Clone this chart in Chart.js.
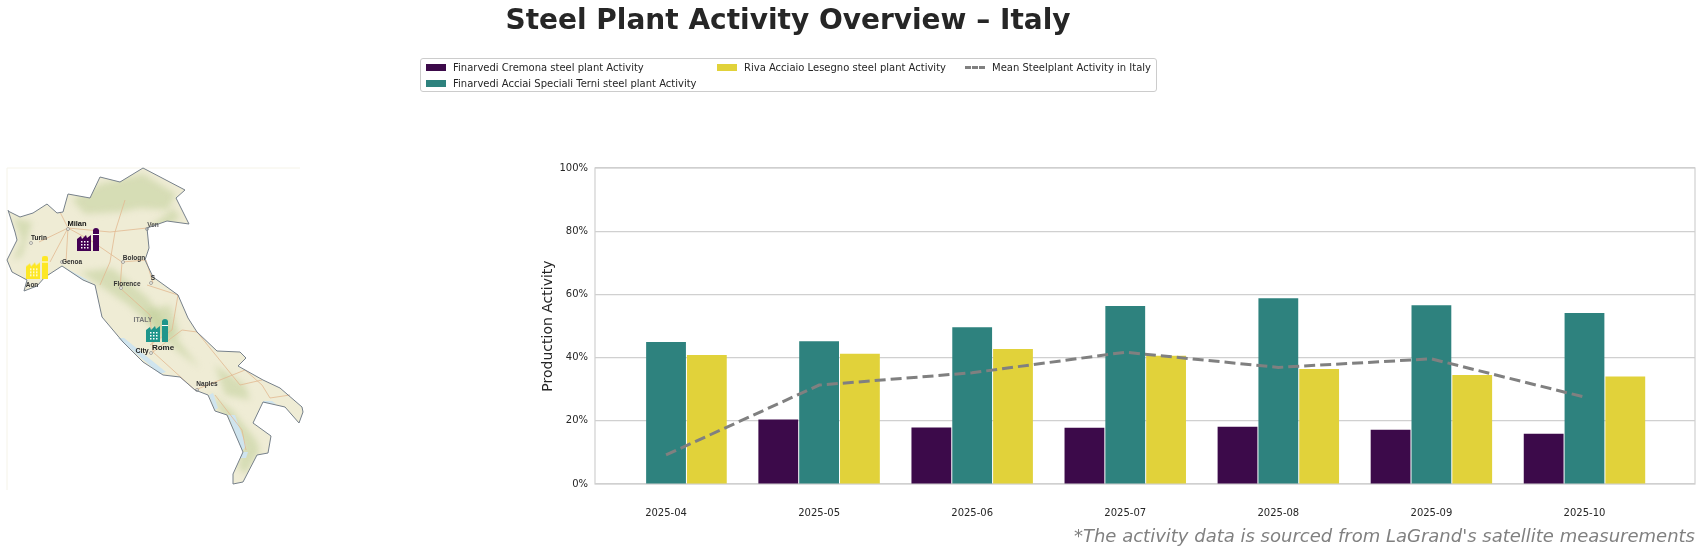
<!DOCTYPE html>
<html>
<head>
  <meta charset="utf-8">
  <script src="https://cdn.jsdelivr.net/npm/chart.js@4"></script>
  <style>
    html, body { margin: 0; padding: 0; background: #fff; }
    body { position: relative; width: 1702px; height: 554px; overflow: hidden; font-family: "DejaVu Sans", sans-serif; }
    canvas { position: absolute; }
    #mainTitle { position: absolute; left: 288px; width: 1000px; top: 1px; text-align: center; font-size: 28px; font-weight: bold; color: #262626; line-height: 38px; }
    #legendBox { position: absolute; left: 420px; top: 58px; width: 735px; height: 32px; border: 1px solid #cccccc; border-radius: 3px; font-size: 10px; color: #262626; }
    .item { position: absolute; white-space: nowrap; line-height: 14px; }
    .swatch { position: absolute; left: 0; top: 3px; width: 20px; height: 7px; }
    .dash { position: absolute; left: 0; top: 5px; width: 20px; border-top: 3px dashed #808080; }
    .item span { margin-left: 27px; }
    #footNote { position: absolute; right: 7px; top: 525px; font-size: 18px; font-style: italic; color: #808080; white-space: nowrap; }
  </style>
</head>
<body>
  <canvas id="barCanvas" width="1702" height="554" style="left:0;top:0"></canvas>
  <canvas id="mapCanvas" width="320" height="330" style="left:0;top:160px"></canvas>
  <div id="mainTitle">Steel Plant Activity Overview – Italy</div>
  <div id="legendBox"></div>
  <div id="footNote">*The activity data is sourced from LaGrand's satellite measurements</div>

  <script>
    const months = ['2025-04', '2025-05', '2025-06', '2025-07', '2025-08', '2025-09', '2025-10'];
    const cremona = [null, 20.4, 17.9, 17.8, 18.1, 17.2, 15.9];
    const terni = [44.9, 45.2, 49.6, 56.3, 58.8, 56.6, 54.1];
    const lesegno = [40.8, 41.2, 42.7, 40.6, 36.4, 34.5, 34.0];
    const meanItaly = [9.2, 31.3, 35.2, 41.7, 36.9, 39.6, 27.5];
    const yTicks = [0, 20, 40, 60, 80, 100];

    const seriesNames = [
      'Finarvedi Cremona steel plant Activity',
      'Finarvedi Acciai Speciali Terni steel plant Activity',
      'Riva Acciaio Lesegno steel plant Activity',
      'Mean Steelplant Activity in Italy'
    ];
    const purple = '#3c0a4a';
    const teal = '#2e827e';
    const yellow = '#e1d23a';

    const italyOutline = [[8,211],[20,217],[33,213],[47,204],[57,213],[63,212],[68,194],[90,198],[100,177],[120,182],[143,168],[185,190],[176,198],[182,210],[189,224],[167,221],[147,228],[149,248],[145,260],[153,277],[178,295],[188,318],[197,332],[217,351],[240,352],[246,358],[238,366],[263,380],[280,388],[302,407],[303,412],[299,423],[285,407],[263,402],[253,423],[271,436],[268,453],[257,455],[243,482],[233,484],[233,474],[243,452],[227,415],[215,411],[208,395],[195,390],[180,377],[163,375],[143,362],[123,342],[102,317],[95,285],[83,280],[62,266],[45,277],[37,286],[24,291],[27,280],[12,272],[7,260],[17,240],[15,232],[8,210]];
    const seaPatches = [
      [[228,415],[235,415],[246,446],[242,451]],
      [[118,338],[124,338],[166,372],[160,374]],
      [[263,401],[272,401],[276,404],[264,403]],
      [[62,266],[80,276],[93,283],[80,278]],
      [[209,395],[213,393],[218,408],[215,410]],
      [[243,452],[248,452],[246,458],[240,458]]
    ];
    const greenPatches = [
      [[72,200],[100,184],[143,174],[176,194],[168,210],[140,208],[120,212],[85,214]],
      [[13,218],[32,222],[22,256],[13,260],[22,240]],
      [[80,272],[112,268],[148,298],[184,348],[200,368],[176,350],[130,306]],
      [[208,392],[232,410],[256,440],[260,450],[246,474],[238,468],[242,446]],
      [[154,240],[165,228],[180,218],[174,208],[152,225]],
      [[145,310],[170,305],[180,335],[160,340]],
      [[215,365],[245,385],[250,400],[225,395]]
    ];
    const roads = [
      [[39,242],[68,228],[90,240],[122,262],[120,288],[150,315],[153,352],[195,390]],
      [[68,228],[66,262]],
      [[68,228],[110,232],[147,228]],
      [[122,262],[146,260],[153,283]],
      [[153,352],[182,330],[197,332],[240,385],[262,380]],
      [[60,212],[68,228],[50,262]],
      [[195,390],[245,370],[262,385],[270,398],[290,395]],
      [[215,395],[242,430],[246,450]],
      [[125,200],[115,232],[110,262],[100,285]],
      [[147,285],[178,295],[172,330],[150,345]]
    ];
    const imageEdge = [[7,490],[7,168],[300,168]];
    const cityPoints = [[68,229],[31,243],[62,262],[123,262],[121,288],[151,353],[197,390],[147,229],[151,283]];
    const mapLabels = [
      ['Milan', 77, 224, 7.5, '#111111'], ['Turin', 39, 238, 6.5, '#222222'], ['Genoa', 72, 262, 6.5, '#333333'],
      ['Bologn', 134, 258, 6.5, '#333333'], ['Florence', 127, 284, 6.5, '#333333'], ['ITALY', 143, 320, 7, '#777777'],
      ['Rome', 163, 348, 8, '#222222'], ['City', 142, 351, 7, '#222222'], ['Naples', 207, 384, 6.5, '#333333'],
      ['Ven', 153, 225, 6.5, '#555555'], ['S', 153, 278, 6.5, '#333333'], ['Aon', 32, 285, 6.5, '#333333']
    ];
    const plantSpots = [[88,239.5,'#440154'],[37,267,'#fde725'],[157,330.5,'#1f958b']];

    function toPoints(list) {
      return list.map(p => ({ x: p[0], y: p[1] }));
    }

    function factoryIcon(color) {
      const c = document.createElement('canvas');
      c.width = 22;
      c.height = 23;
      const g = c.getContext('2d');
      g.fillStyle = color;
      // sawtooth hall
      g.beginPath();
      g.moveTo(0, 23);
      g.lineTo(0, 11);
      g.lineTo(4, 8);
      g.lineTo(5, 11);
      g.lineTo(9, 7);
      g.lineTo(10, 10);
      g.lineTo(14, 7);
      g.lineTo(14, 23);
      g.fill();
      // chimney
      g.fillRect(16, 2, 6, 21);
      g.beginPath();
      g.arc(19, 3, 3, 0, Math.PI * 2);
      g.fill();
      g.fillStyle = '#ffffff';
      g.fillRect(16, 6, 6, 1);
      for (let r = 0; r < 3; r++) {
        for (let k = 0; k < 3; k++) {
          g.fillRect(4 + k * 3, 13 + r * 3, 1.5, 1.5);
        }
      }
      return c;
    }

    // legend, same columns as the picture
    const legendBox = document.getElementById('legendBox');
    const legendSpots = [[5, 2, purple], [5, 18, teal], [296, 2, yellow], [544, 2, null]];
    seriesNames.forEach((name, i) => {
      const spot = legendSpots[i];
      const el = document.createElement('div');
      el.className = 'item';
      el.style.left = spot[0] + 'px';
      el.style.top = spot[1] + 'px';
      el.innerHTML = (spot[2] ? '<i class="swatch" style="background:' + spot[2] + '"></i>' : '<i class="dash"></i>') + '<span>' + name + '</span>';
      legendBox.appendChild(el);
    });

    const frameBox = {
      id: 'frameBox',
      beforeDatasetsDraw(chart) {
        const a = chart.chartArea;
        const ctx = chart.ctx;
        ctx.save();
        ctx.strokeStyle = '#d0d0d0';
        ctx.lineWidth = 1.2;
        ctx.strokeRect(a.left, a.top, a.right - a.left, a.bottom - a.top);
        ctx.restore();
      }
    };

    new Chart(document.getElementById('barCanvas').getContext('2d'), {
      data: {
        datasets: [
          { type: 'line', label: seriesNames[3], data: months.map((m, i) => ({ x: i, y: meanItaly[i] })), borderColor: '#808080', borderWidth: 3, borderDash: [11, 5], pointRadius: 0, tension: 0, order: 0 },
          { type: 'bar', label: seriesNames[0], data: months.map((m, i) => ({ x: i, y: cremona[i] })), backgroundColor: purple, order: 1, categoryPercentage: 0.8, barPercentage: 0.975 },
          { type: 'bar', label: seriesNames[1], data: months.map((m, i) => ({ x: i, y: terni[i] })), backgroundColor: teal, order: 1, categoryPercentage: 0.8, barPercentage: 0.975 },
          { type: 'bar', label: seriesNames[2], data: months.map((m, i) => ({ x: i, y: lesegno[i] })), backgroundColor: yellow, order: 1, categoryPercentage: 0.8, barPercentage: 0.975 }
        ]
      },
      options: {
        responsive: false,
        animation: false,
        layout: { padding: { left: 540, right: 7, top: 168, bottom: 30 } },
        plugins: { legend: { display: false }, tooltip: { enabled: false } },
        scales: {
          x: {
            type: 'linear',
            offset: false,
            min: -0.464,
            max: 6.722,
            grid: { display: false },
            border: { display: false },
            afterBuildTicks: s => { s.ticks = months.map((m, i) => ({ value: i })); },
            afterFit: s => { s.height = 40; },
            ticks: { autoSkip: false, maxRotation: 0, padding: 15, color: '#262626', font: { family: 'DejaVu Sans', size: 10 }, callback: v => months[v] }
          },
          y: {
            min: 0,
            max: 100,
            afterBuildTicks: s => { s.ticks = yTicks.map(v => ({ value: v })); },
            afterFit: s => { s.width = 55; },
            grid: { color: '#d0d0d0', lineWidth: 1.2, drawTicks: false },
            border: { display: false },
            title: { display: true, text: 'Production Activity', color: '#262626', font: { family: 'DejaVu Sans', size: 14 }, padding: 0 },
            ticks: { padding: 7, color: '#262626', font: { family: 'DejaVu Sans', size: 10 }, callback: v => v + '%' }
          }
        }
      },
      plugins: [frameBox]
    });

    const polygonFill = {
      id: 'polygonFill',
      beforeDatasetDraw(chart, args) {
        const ds = chart.data.datasets[args.index];
        if (!ds.polyFill) return;
        const pts = chart.getDatasetMeta(args.index).data;
        const ctx = chart.ctx;
        ctx.save();
        if (ds.soft) {
          // keep the terrain shading inside the land
          ctx.beginPath();
          italyOutline.forEach((p, i) => {
            const px = chart.scales.x.getPixelForValue(p[0]);
            const py = chart.scales.y.getPixelForValue(p[1]);
            i ? ctx.lineTo(px, py) : ctx.moveTo(px, py);
          });
          ctx.closePath();
          ctx.clip();
          ctx.filter = 'blur(' + ds.soft + 'px)';
        }
        ctx.fillStyle = ds.polyFill;
        ctx.beginPath();
        pts.forEach((p, i) => { i ? ctx.lineTo(p.x, p.y) : ctx.moveTo(p.x, p.y); });
        ctx.closePath();
        ctx.fill();
        ctx.restore();
      }
    };
    const mapText = {
      id: 'mapText',
      afterDatasetsDraw(chart) {
        const ctx = chart.ctx;
        ctx.save();
        ctx.textAlign = 'center';
        ctx.textBaseline = 'middle';
        mapLabels.forEach(l => {
          ctx.font = 'bold ' + l[3] + 'px "Liberation Sans"';
          ctx.fillStyle = l[4];
          ctx.fillText(l[0], chart.scales.x.getPixelForValue(l[1]), chart.scales.y.getPixelForValue(l[2]));
        });
        ctx.restore();
      }
    };

    // first dataset ends up on top
    const mapSets = [];
    plantSpots.forEach(p => {
      mapSets.push({ data: [{ x: p[0], y: p[1] }], pointStyle: factoryIcon(p[2]), showLine: false });
    });
    mapSets.push({ data: toPoints(italyOutline), showLine: true, borderColor: '#76808a', borderWidth: 1, pointRadius: 0, fill: false });
    mapSets.push({ data: toPoints(cityPoints), showLine: false, pointRadius: 1.5, pointBackgroundColor: '#f4f2e6', pointBorderColor: '#888888', pointBorderWidth: 0.7 });
    roads.forEach(r => {
      mapSets.push({ data: toPoints(r), showLine: true, borderColor: 'rgba(226,185,145,0.8)', borderWidth: 1, pointRadius: 0 });
    });
    seaPatches.forEach(s => {
      mapSets.push({ data: toPoints(s), showLine: false, pointRadius: 0, polyFill: '#cfe4ee' });
    });
    greenPatches.forEach(s => {
      mapSets.push({ data: toPoints(s), showLine: false, pointRadius: 0, polyFill: 'rgba(190,205,150,0.5)', soft: 3 });
    });
    mapSets.push({ data: toPoints(italyOutline), showLine: false, pointRadius: 0, polyFill: '#efecd5' });
    mapSets.push({ data: toPoints(imageEdge), showLine: true, borderColor: '#f5f3e8', borderWidth: 1, pointRadius: 0 });

    new Chart(document.getElementById('mapCanvas').getContext('2d'), {
      type: 'scatter',
      data: { datasets: mapSets },
      options: {
        responsive: false,
        animation: false,
        layout: { padding: 0, autoPadding: false },
        plugins: { legend: { display: false }, tooltip: { enabled: false } },
        scales: {
          x: { type: 'linear', display: false, min: 0, max: 320 },
          y: { type: 'linear', display: false, min: 160, max: 490, reverse: true }
        }
      },
      plugins: [polygonFill, mapText]
    });
  </script>
</body>
</html>
